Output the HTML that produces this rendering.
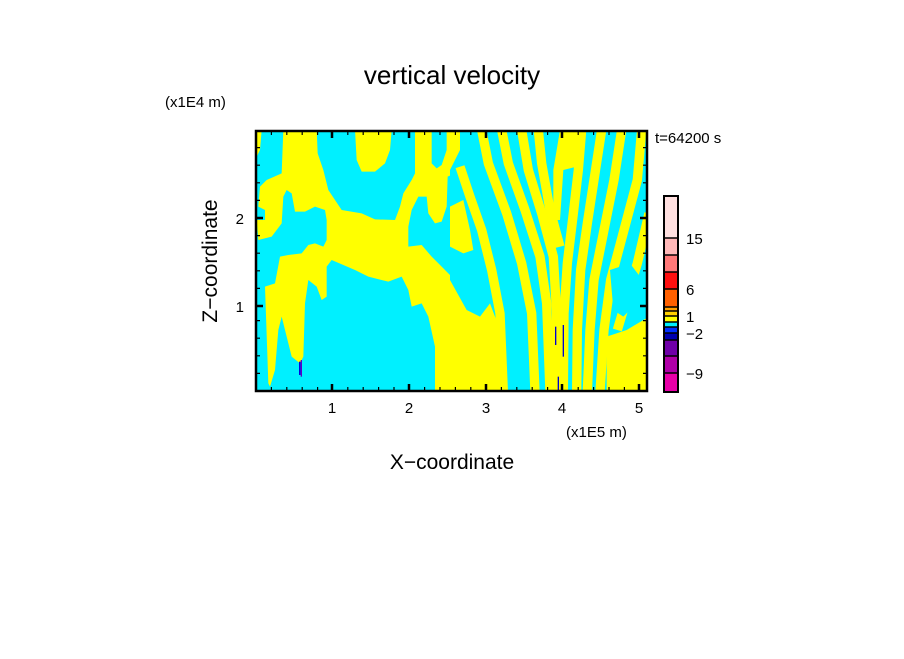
<!DOCTYPE html>
<html><head><style>
body{margin:0;background:#fff;}
svg text{font-family:"Liberation Sans",sans-serif;fill:#000;}
</style></head><body>
<svg width="904" height="654" viewBox="0 0 904 654" xmlns="http://www.w3.org/2000/svg">
<rect width="904" height="654" fill="#fff"/>
<text x="452" y="84" font-size="26" text-anchor="middle">vertical velocity</text>
<text x="165" y="107" font-size="15">(x1E4 m)</text>
<text x="655" y="143" font-size="15">t=64200 s</text>
<text x="566" y="437" font-size="15">(x1E5 m)</text>
<text x="452" y="469" font-size="21" text-anchor="middle">X−coordinate</text>
<text x="0" y="0" font-size="21" text-anchor="middle" transform="translate(217,261) rotate(-90)">Z−coordinate</text>
<!-- left field -->
<svg x="255" y="130" width="200" height="262" viewBox="0 0 600 786" preserveAspectRatio="none">
<rect width="600" height="786" fill="#00f0ff"/>
<polygon fill="#ffff00" points="0,0 20,0 15,60 0,90"/>
<polygon fill="#ffff00" points="300,0 410,0 405,60 390,100 360,125 320,125 305,90"/>
<polygon fill="#ffff00" points="85,0 185,0 188,70 205,120 220,180 260,240 320,250 360,268 420,270 435,230 445,190 470,150 480,130 480,0 530,0 530,100 545,115 560,105 575,60 575,0 600,0 600,130 578,140 575,230 560,275 540,280 520,250 515,200 490,200 470,240 460,290 460,350 500,345 530,380 560,410 580,430 600,450 600,786 540,786 540,650 520,560 500,520 470,530 460,480 440,440 400,455 340,440 300,420 230,390 215,410 215,500 200,510 185,470 160,450 150,520 145,680 135,700 110,680 80,560 70,600 60,720 45,770 40,760 30,470 60,460 75,380 100,375 140,370 160,345 180,340 205,350 215,330 215,270 210,240 180,230 150,245 120,245 110,190 95,180 85,200 80,280 50,320 10,330 5,270 30,270 30,240 10,230 15,170 35,150 80,130"/>
<rect x="132" y="695" width="5" height="40" fill="#0000e0"/>
<rect x="137" y="690" width="4" height="50" fill="#6000c0"/>
</svg>
<!-- right field -->
<svg x="450" y="130" width="197" height="262" viewBox="0 0 591 786" preserveAspectRatio="none">
<rect width="600" height="786" fill="#00f0ff"/>
<polygon fill="#ffff00" points="0,0 30,0 30,60 0,120"/>
<polygon fill="#ffff00" points="0,230 40,210 60,300 70,360 40,370 0,350"/>
<polygon fill="#ffff00" points="0,450 50,540 90,560 120,520 150,600 170,786 0,786"/>
<polygon fill="#ffff00" points="330,0 385,0 380,110 340,120 330,270 310,270 310,120"/>
<polygon fill="#ffff00" points="470,620 530,600 597,560 597,786 470,786"/>
<g fill="none" stroke="#ffff00" stroke-width="28" stroke-linejoin="round">
<polyline points="30,110 60,200 95,300 125,420 150,550 160,786"/>
<polyline points="95,0 115,100 170,250 215,400 245,550 255,786"/>
<polyline points="155,0 175,100 225,240 270,380 290,520 300,786"/>
<polyline points="215,0 235,120 275,250 310,380 320,550 320,786"/>
<polyline points="265,0 275,100 300,240 330,350"/>
<polyline points="395,0 385,120 370,250 352,400 342,550 340,786"/>
<polyline points="455,0 435,130 412,280 392,420 382,600 380,786"/>
<polyline points="515,0 492,150 462,300 432,450 420,600 412,786"/>
<polyline points="575,0 562,150 522,300 482,450 462,600 450,786"/>
<polyline points="597,250 562,400 532,500 502,600"/>
</g>
<polygon fill="#00f0ff" points="480,420 540,400 570,440 560,520 520,560 490,540"/>
<rect x="315" y="590" width="4" height="55" fill="#0000d0"/>
<rect x="338" y="585" width="4" height="95" fill="#0000d0"/>
<rect x="323" y="740" width="4" height="40" fill="#0000d0"/>
</svg>
<!-- axes frame -->
<rect x="256" y="131" width="391" height="260" fill="none" stroke="#000" stroke-width="2.5"/>
<g stroke="#000" stroke-width="1.2">
<path d="M271.4,391v-4M286.8,391v-4M302.2,391v-4M317.6,391v-4M347.8,391v-4M363.2,391v-4M378.6,391v-4M394,391v-4M424.6,391v-4M440,391v-4M455.4,391v-4M470.8,391v-4M501.4,391v-4M516.8,391v-4M532.2,391v-4M547.6,391v-4M578.2,391v-4M593.6,391v-4M609,391v-4M624.4,391v-4"/>
<path d="M271.4,131v4M286.8,131v4M302.2,131v4M317.6,131v4M347.8,131v4M363.2,131v4M378.6,131v4M394,131v4M424.6,131v4M440,131v4M455.4,131v4M470.8,131v4M501.4,131v4M516.8,131v4M532.2,131v4M547.6,131v4M578.2,131v4M593.6,131v4M609,131v4M624.4,131v4"/>
<path d="M256,373.4h4M256,355.8h4M256,338.2h4M256,320.6h4M256,288.4h4M256,270.8h4M256,253.2h4M256,235.6h4M256,200.4h4M256,182.8h4M256,165.2h4M256,147.6h4"/>
<path d="M647,373.4h-4M647,355.8h-4M647,338.2h-4M647,320.6h-4M647,288.4h-4M647,270.8h-4M647,253.2h-4M647,235.6h-4M647,200.4h-4M647,182.8h-4M647,165.2h-4M647,147.6h-4"/>
</g>
<g stroke="#000" stroke-width="2.5">
<path d="M332,391v-7M409,391v-7M486,391v-7M562,391v-7M639,391v-7M332,131v7M409,131v7M486,131v7M562,131v7M639,131v7M256,306h7M256,218h7M647,306h-7M647,218h-7"/>
</g>
<g font-size="15" text-anchor="middle">
<text x="332" y="413">1</text><text x="409" y="413">2</text><text x="486" y="413">3</text><text x="562" y="413">4</text><text x="639" y="413">5</text>
</g>
<text x="244" y="224" font-size="15" text-anchor="end">2</text>
<text x="244" y="312" font-size="15" text-anchor="end">1</text>
<!-- colorbar -->
<rect x="664" y="196" width="14" height="42" fill="#ffe0e0"/>
<rect x="664" y="238" width="14" height="17" fill="#ffb8b8"/>
<rect x="664" y="255" width="14" height="17" fill="#ff7878"/>
<rect x="664" y="272" width="14" height="17" fill="#ff1010"/>
<rect x="664" y="289" width="14" height="18" fill="#ff6000"/>
<rect x="664" y="307" width="14" height="4" fill="#ffa000"/>
<rect x="664" y="311" width="14" height="5" fill="#ffd000"/>
<rect x="664" y="316" width="14" height="6" fill="#ffff00"/>
<rect x="664" y="322" width="14" height="5" fill="#00f0ff"/>
<rect x="664" y="327" width="14" height="6" fill="#0030ff"/>
<rect x="664" y="333" width="14" height="7" fill="#0000b0"/>
<rect x="664" y="340" width="14" height="16" fill="#7000a8"/>
<rect x="664" y="356" width="14" height="17" fill="#b000a8"/>
<rect x="664" y="373" width="14" height="19" fill="#e800a8"/>
<g stroke="#000" stroke-width="1.5" fill="none">
<rect x="664" y="196" width="14" height="196" stroke-width="2"/>
<path d="M664,238h14M664,255h14M664,272h14M664,289h14M664,307h14M664,311h14M664,316h14M664,322h14M664,327h14M664,333h14M664,340h14M664,356h14M664,373h14"/>
</g>
<g font-size="15">
<text x="686" y="244">15</text>
<text x="686" y="295">6</text>
<text x="686" y="322">1</text>
<text x="686" y="339">−2</text>
<text x="686" y="379">−9</text>
</g>
</svg>
</body></html>
